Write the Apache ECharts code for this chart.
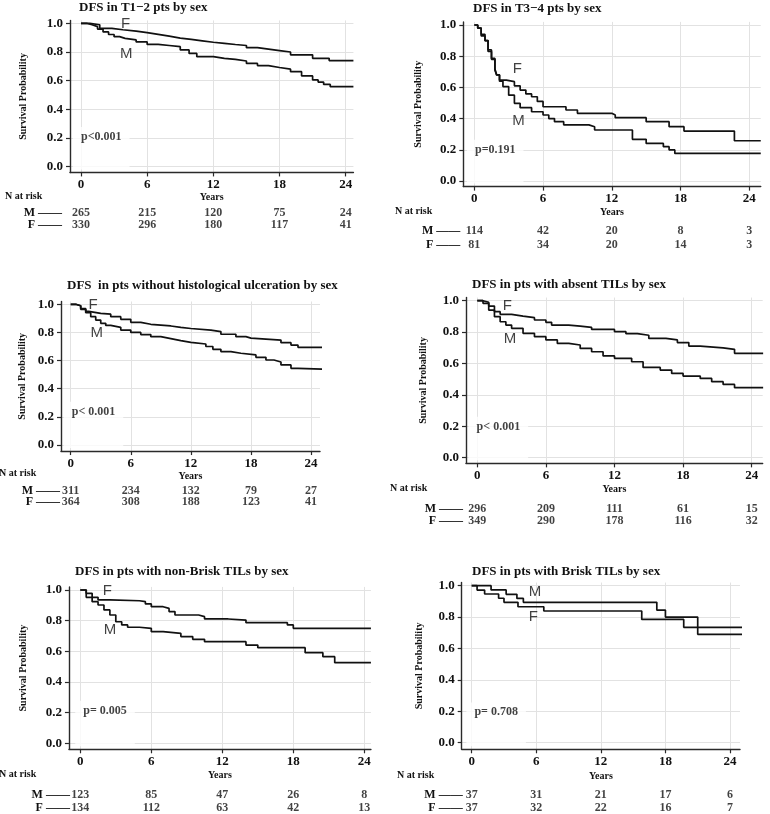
<!DOCTYPE html>
<html>
<head>
<meta charset="utf-8">
<script src="https://cdn.jsdelivr.net/npm/echarts@6/dist/echarts.min.js"></script>
<style>
  html, body { margin: 0; padding: 0; background: #fff; }
  #chart { width: 770px; height: 814px; }
</style>
</head>
<body>
<div id="chart"></div>
<script>
const yearTicks = [0, 6, 12, 18, 24];
const probTicks = [0, 0.2, 0.4, 0.6, 0.8, 1.0];

// T1-2
const t12F = [[0,1],[0.8,0.99],[1.7,0.965],[2.8,0.955],[3.8,0.945],[5,0.935],[6,0.923],[7,0.91],[8,0.897],[9,0.888],[10,0.878],[11,0.868],[12,0.86],[13,0.852],[14,0.845],[15,0.83],[16,0.82],[17,0.81],[18,0.8],[19,0.78],[21,0.756],[22.5,0.74],[24.7,0.74]];
const t12M = [[0,1],[0.5,0.99],[1,0.977],[1.5,0.96],[2,0.94],[2.5,0.922],[3,0.907],[3.5,0.895],[4,0.884],[5,0.87],[6,0.853],[7,0.845],[8,0.837],[9,0.814],[9.8,0.79],[10.5,0.767],[12,0.756],[13,0.748],[14,0.737],[15,0.72],[16,0.705],[17,0.692],[18,0.68],[19,0.663],[20,0.633],[21,0.605],[21.5,0.59],[22,0.574],[22.6,0.558],[24.7,0.558]];
const t12RiskM = [265, 215, 120, 75, 24];
const t12RiskF = [330, 296, 180, 117, 41];

// T3-4
const t34F = [[0,1],[0.3,0.98],[0.6,0.94],[0.93,0.9],[1.2,0.84],[1.5,0.786],[1.8,0.72],[1.95,0.68],[2.2,0.647],[2.8,0.637],[3.5,0.61],[4,0.583],[4.5,0.558],[5,0.54],[5.5,0.51],[6,0.476],[8,0.455],[9,0.434],[12,0.423],[12.3,0.406],[15,0.38],[17,0.348],[18.3,0.32],[22.7,0.258],[25,0.258]];
const t34M = [[0,1],[0.3,0.98],[0.6,0.93],[0.93,0.9],[1.2,0.83],[1.5,0.78],[1.8,0.71],[1.95,0.68],[2.2,0.64],[2.5,0.605],[3,0.55],[3.5,0.498],[4,0.47],[5,0.444],[6,0.423],[6.5,0.4],[7,0.38],[7.8,0.36],[10,0.348],[10.5,0.327],[13.8,0.267],[15,0.241],[16.5,0.22],[17,0.199],[17.5,0.177],[25,0.177]];
const t34RiskM = [114, 42, 20, 8, 3];
const t34RiskF = [81, 34, 20, 14, 3];

// no ulceration
const ulcF = [[0,1],[0.5,0.99],[1,0.97],[1.5,0.95],[1.8,0.936],[3,0.93],[4,0.912],[5,0.893],[6,0.872],[7,0.858],[8,0.846],[10,0.836],[11,0.828],[12,0.817],[14,0.806],[15,0.787],[16.5,0.77],[17.5,0.76],[18,0.746],[21,0.727],[22,0.71],[22.7,0.694],[27.3,0.694]];
const ulcM = [[0,1],[0.5,0.99],[1,0.964],[1.5,0.94],[2,0.912],[2.5,0.888],[3,0.865],[3.5,0.85],[4,0.836],[5,0.817],[6,0.8],[7,0.785],[8,0.77],[9,0.756],[10,0.742],[11,0.73],[12,0.718],[13.5,0.7],[14.2,0.68],[15,0.664],[16,0.652],[17,0.64],[18.5,0.623],[19.5,0.604],[20.3,0.59],[21,0.569],[22,0.545],[22.7,0.533],[27.3,0.533]];
const ulcRiskM = [311, 234, 132, 79, 27];
const ulcRiskF = [364, 308, 188, 123, 41];

// absent TILs
const absF = [[0,1],[0.5,0.99],[1,0.966],[1.5,0.93],[2,0.913],[3,0.902],[4,0.892],[5,0.877],[6,0.862],[6.5,0.845],[8,0.838],[9,0.83],[10,0.817],[12,0.803],[13,0.79],[14,0.78],[15,0.76],[16.5,0.75],[17.5,0.733],[18.5,0.711],[19.5,0.7],[21.5,0.69],[22.5,0.665],[25,0.665]];
const absM = [[0,1],[0.5,0.983],[1,0.94],[1.5,0.898],[2,0.866],[2.5,0.845],[3,0.824],[4,0.792],[5,0.771],[6,0.75],[7,0.728],[8,0.718],[9,0.696],[10,0.675],[11,0.648],[12,0.633],[13.5,0.611],[14.5,0.575],[16,0.558],[17,0.537],[18,0.52],[19.5,0.505],[20.5,0.484],[21.5,0.467],[22.5,0.446],[25,0.446]];
const absRiskM = [296, 209, 111, 61, 15];
const absRiskF = [349, 290, 178, 116, 32];

// non-brisk TILs
const nbF = [[0,1],[0.5,0.978],[1,0.952],[1.5,0.935],[2.5,0.93],[5,0.924],[5.5,0.909],[6,0.891],[7,0.88],[7.5,0.859],[8,0.837],[10,0.826],[10.5,0.811],[12.5,0.804],[14,0.787],[17.5,0.772],[18,0.75],[24.56,0.75]];
const nbM = [[0,1],[0.5,0.952],[1,0.924],[1.5,0.902],[2,0.87],[2.5,0.837],[3,0.793],[3.5,0.772],[4,0.757],[5,0.75],[6,0.728],[7,0.717],[8.5,0.696],[9.5,0.678],[10.5,0.663],[14,0.641],[15,0.624],[19,0.591],[20.5,0.565],[21.5,0.526],[24.56,0.526]];
const nbRiskM = [123, 85, 47, 26, 8];
const nbRiskF = [134, 112, 63, 42, 13];

// brisk TILs
const brF = [[0,1],[0.5,0.972],[1.2,0.947],[2.5,0.92],[3,0.894],[4.3,0.866],[6.7,0.839],[15.8,0.785],[19.7,0.735],[27.35,0.735]];
const brM = [[0,1],[1.8,0.973],[3.2,0.945],[4.2,0.919],[4.8,0.894],[17.2,0.845],[18,0.8],[21,0.69],[27.35,0.69]];
const brRiskM = [37, 31, 21, 17, 6];
const brRiskF = [37, 32, 22, 16, 7];

const panels = [
  { title: 'DFS in T1\u22122 pts by sex', F: t12F, M: t12M, riskM: t12RiskM, riskF: t12RiskF, p: 'p<0.001',
    x0: 81, x24: 345.7, y1: 23.3, y0: 166.7, xMin: -1, xMax: 24.7, yMin: -0.04,
    titleX: 79, titleY: 7, yNameGap: 42, xNameGap: 20, pAt: [0, 0.207], labF: [4.05, 0.995], labM: [4.1, 0.786],
    riskLeft: 5, riskTop: 197, rowM: 213, rowF: 225, riskMargin: 8 },
  { title: 'DFS in T3\u22124 pts by sex', F: t34F, M: t34M, riskM: t34RiskM, riskF: t34RiskF, p: 'p=0.191',
    x0: 474.3, x24: 749.3, y1: 25, y0: 181, xMin: -0.96, xMax: 25, yMin: -0.036,
    titleX: 473, titleY: 8, yNameGap: 40, xNameGap: 21, pAt: [0.06, 0.2], labF: [3.75, 0.718], labM: [3.85, 0.387],
    riskLeft: 395, riskTop: 212, rowM: 230, rowF: 244, riskMargin: 3 },
  { title: 'DFS  in pts without histological ulceration by sex', F: ulcF, M: ulcM, riskM: ulcRiskM, riskF: ulcRiskF, p: 'p< 0.001',
    x0: 70.7, x24: 311, y1: 304.3, y0: 445, xMin: -0.97, xMax: 24.9, yMin: -0.043,
    titleX: 67, titleY: 285, yNameGap: 34, xNameGap: 18, pAt: [0.1, 0.237], labF: [2.23, 0.995], labM: [2.6, 0.794],
    riskLeft: -1, riskTop: 474, rowM: 491, rowF: 502, riskMargin: 1 },
  { title: 'DFS in pts with absent TILs by sex', F: absF, M: absM, riskM: absRiskM, riskF: absRiskF, p: 'p< 0.001',
    x0: 477.3, x24: 751.7, y1: 300.7, y0: 457.7, xMin: -0.99, xMax: 24.96, yMin: -0.036,
    titleX: 472, titleY: 284, yNameGap: 38, xNameGap: 21, pAt: [-0.06, 0.197], labF: [2.62, 0.968], labM: [2.86, 0.756],
    riskLeft: 390, riskTop: 489, rowM: 509, rowF: 521, riskMargin: 3 },
  { title: 'DFS in pts with non-Brisk TILs by sex', F: nbF, M: nbM, riskM: nbRiskM, riskF: nbRiskF, p: 'p= 0.005',
    x0: 80.3, x24: 364.3, y1: 590, y0: 743.3, xMin: -0.96, xMax: 24.56, yMin: -0.039,
    titleX: 75, titleY: 571, yNameGap: 41, xNameGap: 21, pAt: [0.25, 0.213], labF: [2.28, 0.996], labM: [2.5, 0.743],
    riskLeft: -1, riskTop: 775, rowM: 794, rowF: 807, riskMargin: -1 },
  { title: 'DFS in pts with Brisk TILs by sex', F: brF, M: brM, riskM: brRiskM, riskF: brRiskF, p: 'p= 0.708',
    x0: 471.7, x24: 730, y1: 585.7, y0: 742.7, xMin: -0.93, xMax: 24.93, yMin: -0.042,
    titleX: 472, titleY: 571, yNameGap: 37, xNameGap: 22, pAt: [0.25, 0.193], labF: [5.73, 0.8], labM: [5.88, 0.962],
    riskLeft: 397, riskTop: 776, rowM: 794, rowF: 807, riskMargin: -1 }
];

const serif = '"Liberation Serif", "DejaVu Serif", serif';
const sans = '"Liberation Sans", Arial, sans-serif';
const ink = '#111';
const gridColor = '#e2e2e2';
const yMax = 1.02;

const grid = [], xAxis = [], yAxis = [], series = [], title = [], graphic = [];

panels.forEach((p, i) => {
  const sx = (p.x24 - p.x0) / 24;
  const sy = p.y0 - p.y1;
  const g = 2 * i, r = 2 * i + 1;

  grid.push({ left: p.x0 + p.xMin * sx, width: (p.xMax - p.xMin) * sx,
              top: p.y1 - (yMax - 1) * sy, height: (yMax - p.yMin) * sy });
  grid.push({ left: p.x0 + p.xMin * sx, width: (p.xMax - p.xMin) * sx,
              top: p.rowM - 6, height: 2 * (p.rowF - p.rowM) });

  xAxis.push({
    gridIndex: g, type: 'value', min: p.xMin, max: p.xMax,
    name: 'Years', nameLocation: 'middle', nameGap: p.xNameGap,
    nameTextStyle: { fontFamily: serif, fontWeight: 'bold', fontSize: 10, color: ink },
    axisLine: { show: true, onZero: false, lineStyle: { color: '#2a2a2a', width: 1.4 } },
    axisTick: { show: true, customValues: yearTicks, length: 4, lineStyle: { color: '#2a2a2a', width: 1.2 } },
    axisLabel: { customValues: yearTicks, margin: 6, fontFamily: serif, fontWeight: 'bold', fontSize: 13, color: ink },
    splitLine: { show: true, lineStyle: { color: gridColor, width: 1 } }
  });
  xAxis.push({ gridIndex: r, type: 'value', min: p.xMin, max: p.xMax, show: false });

  yAxis.push({
    gridIndex: g, type: 'value', min: p.yMin, max: yMax,
    name: 'Survival Probability', nameLocation: 'middle', nameGap: p.yNameGap,
    nameTextStyle: { fontFamily: serif, fontWeight: 'bold', fontSize: 10, color: ink },
    axisLine: { show: true, onZero: false, lineStyle: { color: '#2a2a2a', width: 1.4 } },
    axisTick: { show: true, customValues: probTicks, length: 4, lineStyle: { color: '#2a2a2a', width: 1.2 } },
    axisLabel: { customValues: probTicks, formatter: v => v.toFixed(1), margin: 7,
                 fontFamily: serif, fontWeight: 'bold', fontSize: 13, color: ink },
    splitLine: { show: true, lineStyle: { color: gridColor, width: 1 } }
  });
  yAxis.push({
    gridIndex: r, type: 'category', data: ['M', 'F'], inverse: true,
    axisLine: { show: false }, axisTick: { show: false }, splitLine: { show: false },
    axisLabel: { interval: 0, hideOverlap: false, formatter: v => v + ' \u2014\u2014', margin: p.riskMargin,
                 fontFamily: serif, fontWeight: 'bold', fontSize: 12, color: ink }
  });

  title.push({ text: p.title, left: p.titleX, top: p.titleY - 6, padding: 0,
               textStyle: { fontFamily: serif, fontWeight: 'bold', fontSize: 13, color: ink } });

  graphic.push({ type: 'text', left: p.riskLeft, top: p.riskTop - 6,
                 style: { text: 'N at risk', font: 'bold 10px ' + serif, fill: ink } });

  [p.F, p.M].forEach(d => series.push({
    type: 'line', step: 'end', data: d, xAxisIndex: g, yAxisIndex: g,
    symbol: 'none', clip: false, silent: true,
    lineStyle: { color: ink, width: 1.7 }
  }));

  [['F', p.labF], ['M', p.labM]].forEach(([txt, at]) => series.push({
    type: 'scatter', xAxisIndex: g, yAxisIndex: g, data: [at], symbolSize: 0, silent: true, clip: false,
    label: { show: true, position: 'inside', formatter: txt,
             fontFamily: sans, fontSize: 15, color: ink }
  }));

  // p-value with white box underneath, covering grid lines
  const padB = (p.pAt[1] - p.yMin) * sy - 9;
  series.push({
    type: 'scatter', xAxisIndex: g, yAxisIndex: g, data: [p.pAt], symbolSize: 0, silent: true, z: 3,
    label: { show: true, position: [-8, -10], formatter: p.p, backgroundColor: '#fff',
             padding: [4, 8, padB, 8], lineHeight: 12,
             fontFamily: serif, fontWeight: 'bold', fontSize: 12, color: ink }
  });

  const risk = [];
  yearTicks.forEach((t, k) => {
    risk.push([t, 'M', p.riskM[k]]);
    risk.push([t, 'F', p.riskF[k]]);
  });
  series.push({
    type: 'scatter', xAxisIndex: r, yAxisIndex: r, data: risk, symbolSize: 0, silent: true,
    label: { show: true, position: 'inside', formatter: q => String(q.value[2]),
             fontFamily: serif, fontWeight: 'bold', fontSize: 12, color: ink }
  });
});

const chart = echarts.init(document.getElementById('chart'));
chart.setOption({
  backgroundColor: '#fff',
  animation: false,
  title, grid, xAxis, yAxis, series, graphic
});
</script>
</body>
</html>
